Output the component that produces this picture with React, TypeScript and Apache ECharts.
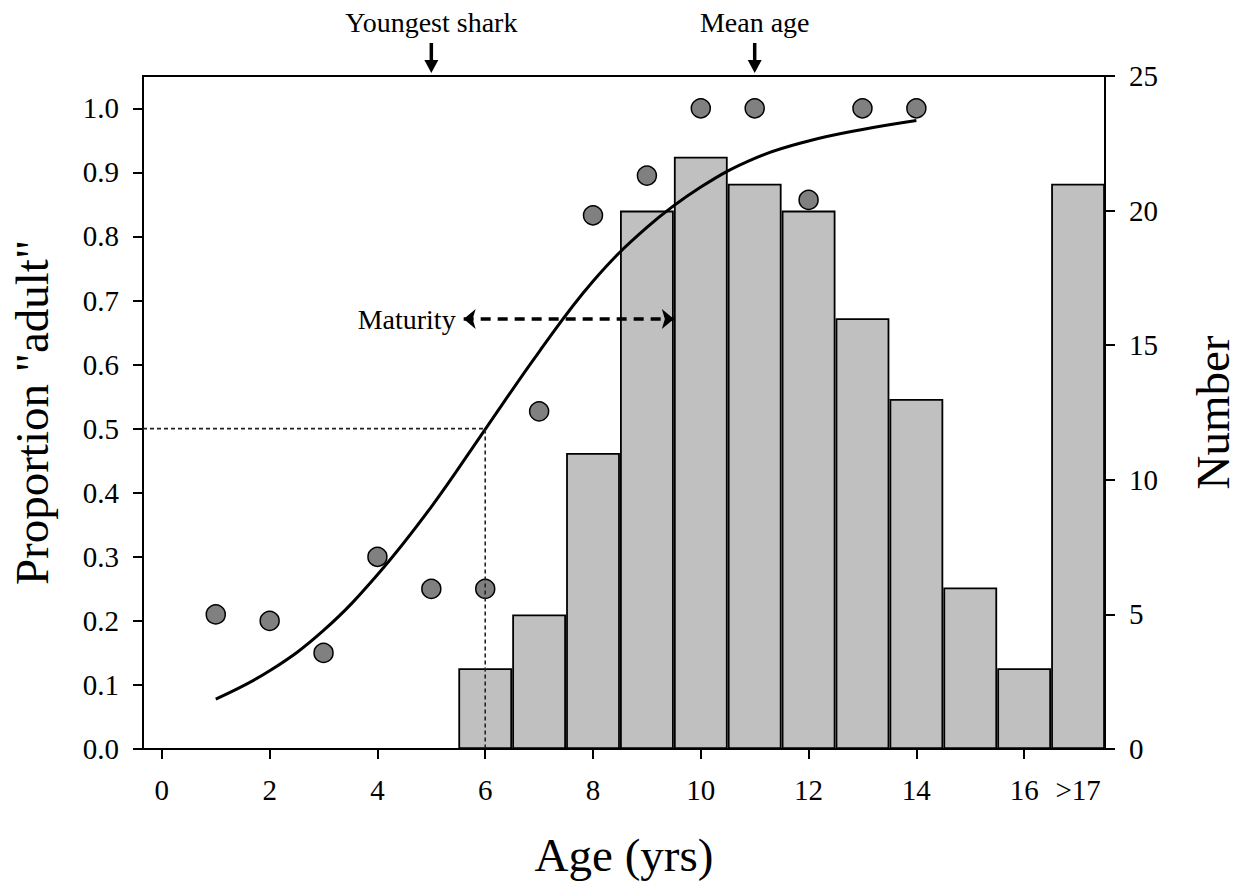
import React, { useEffect, useRef } from "react";
import * as echarts from "echarts";

const FONT = "'Liberation Serif', 'Times New Roman', Times, serif";

// Histogram: number of sharks per age class (right axis)
const barAges = [6, 7, 8, 9, 10, 11, 12, 13, 14, 15, 16, 17];
const barCounts = [3, 5, 11, 20, 22, 21, 20, 16, 13, 6, 3, 21];

// Observed proportion "adult" per age (left axis)
const pointAges = [1, 2, 3, 4, 5, 6, 7, 8, 9, 10, 11, 12, 13, 14];
const pointProps = [0.21, 0.2, 0.15, 0.3, 0.25, 0.25, 0.527, 0.833, 0.895, 1.0, 1.0, 0.857, 1.0, 1.0];

// Fitted maturity curve
const curveAges = [1, 2, 3, 4, 5, 6, 7, 8, 9, 10, 11, 12, 13, 14];
const curveProps = [0.078, 0.122, 0.185, 0.272, 0.378, 0.499, 0.62, 0.73, 0.814, 0.877, 0.922, 0.949, 0.967, 0.981];

// 50% maturity reference
const age50 = 6;
const prop50 = 0.5;

// Maturity range arrow
const maturityFrom = 5.6;
const maturityTo = 9.5;
const maturityLevel = 0.671;

// Top annotations
const topNotes = [
  { label: "Youngest shark", age: 5 },
  { label: "Mean age", age: 11 },
];

// Axis ticks / labels
const xTickValues = [0, 2, 4, 6, 8, 10, 12, 14, 16];
const xLabelValues = [0, 2, 4, 6, 8, 10, 12, 14, 16, 17];
const yLeftTicks = [0, 0.1, 0.2, 0.3, 0.4, 0.5, 0.6, 0.7, 0.8, 0.9, 1.0];

const X_MIN = -0.35;
const X_MAX = 17.5;
const YL_MAX = 1.0504;
const YR_MAX = 25;

export default function App() {
  const ref = useRef<HTMLDivElement>(null);

  useEffect(() => {
    document.body.style.margin = "0";
    const chart = echarts.init(ref.current!, null, { renderer: "svg" });
    const axisLineStyle = { color: "#000", width: 2 };
    const tickStyle = { color: "#000", width: 2 };
    const labelBase = { color: "#000", fontFamily: FONT, fontSize: 29 };

    chart.setOption({
      animation: false,
      backgroundColor: "#fff",
      grid: {
        left: 143,
        right: 139,
        top: 76,
        bottom: 137,
        show: true,
        borderColor: "#000",
        borderWidth: 2,
        backgroundColor: "transparent",
      },
      xAxis: {
        type: "value",
        min: X_MIN,
        max: X_MAX,
        axisLine: { show: true, onZero: false, lineStyle: axisLineStyle },
        axisTick: { show: true, customValues: xTickValues, length: 10, lineStyle: tickStyle },
        axisLabel: {
          ...labelBase,
          customValues: xLabelValues,
          margin: 26,
          formatter: (v: number) => (v === 17 ? ">17" : String(v)),
        },
        splitLine: { show: false },
        name: "Age (yrs)",
        nameLocation: "middle",
        nameGap: 82,
        nameTextStyle: { color: "#000", fontFamily: FONT, fontSize: 47 },
      },
      yAxis: [
        {
          type: "value",
          position: "left",
          min: 0,
          max: YL_MAX,
          axisLine: { show: true, onZero: false, lineStyle: axisLineStyle },
          axisTick: { show: true, customValues: yLeftTicks, length: 10, lineStyle: tickStyle },
          axisLabel: {
            ...labelBase,
            customValues: yLeftTicks,
            margin: 24,
            formatter: (v: number) => v.toFixed(1),
          },
          splitLine: { show: false },
          name: 'Proportion "adult"',
          nameLocation: "middle",
          nameRotate: 90,
          nameGap: 88,
          nameTextStyle: { color: "#000", fontFamily: FONT, fontSize: 47 },
        },
        {
          type: "value",
          position: "right",
          min: 0,
          max: YR_MAX,
          interval: 5,
          axisLine: { show: true, onZero: false, lineStyle: axisLineStyle },
          axisTick: { show: true, length: 10, lineStyle: tickStyle },
          axisLabel: { ...labelBase, margin: 24 },
          splitLine: { show: false },
          name: "Number",
          nameLocation: "middle",
          nameRotate: 90,
          nameGap: 84,
          nameTextStyle: { color: "#000", fontFamily: FONT, fontSize: 47 },
        },
      ],
      series: [
        {
          type: "bar",
          xAxisIndex: 0,
          yAxisIndex: 1,
          data: barAges.map((a, i) => [a, barCounts[i]]),
          barWidth: 53.8,
          itemStyle: { color: "#c0c0c0", borderColor: "#000", borderWidth: 1.8 },
          z: 2,
        },
        {
          type: "line",
          xAxisIndex: 0,
          yAxisIndex: 0,
          data: curveAges.map((a, i) => [a, curveProps[i]]),
          smooth: 0.4,
          showSymbol: false,
          lineStyle: { color: "#000", width: 3 },
          z: 3,
        },
        {
          type: "scatter",
          xAxisIndex: 0,
          yAxisIndex: 0,
          data: pointAges.map((a, i) => [a, pointProps[i]]),
          symbolSize: 19,
          itemStyle: { color: "#808080", borderColor: "#000", borderWidth: 1.5, opacity: 1 },
          z: 4,
        },
        {
          type: "line",
          xAxisIndex: 0,
          yAxisIndex: 0,
          data: [
            [X_MIN, prop50],
            [age50, prop50],
            [age50, 0],
          ],
          showSymbol: false,
          lineStyle: { color: "#222", width: 1.6, type: [4, 3] },
          z: 5,
          markLine: {
            silent: true,
            symbol: ["arrow", "arrow"],
            symbolSize: [15, 12],
            lineStyle: { color: "#000", width: 3.5, type: [10, 7] },
            label: {
              show: true,
              position: "start",
              formatter: "Maturity",
              color: "#000",
              fontFamily: FONT,
              fontSize: 28,
              distance: 8,
            },
            data: [[{ coord: [maturityFrom, maturityLevel] }, { coord: [maturityTo, maturityLevel] }]],
          },
        },
      ],
    });

    const graphics: any[] = [];
    topNotes.forEach((n) => {
      const x = chart.convertToPixel({ xAxisIndex: 0 }, n.age) as number;
      graphics.push({
        type: "text",
        x,
        y: 22,
        style: {
          text: n.label,
          fill: "#000",
          font: `28px ${FONT}`,
          textAlign: "center",
          textVerticalAlign: "middle",
        },
      });
      graphics.push({
        type: "line",
        shape: { x1: x, y1: 43, x2: x, y2: 63 },
        style: { stroke: "#000", lineWidth: 3.5 },
      });
      graphics.push({
        type: "polygon",
        shape: { points: [[x - 7, 60], [x + 7, 60], [x, 73]] },
        style: { fill: "#000" },
      });
    });
    chart.setOption({ graphic: graphics });

    return () => chart.dispose();
  }, []);

  return <div ref={ref} style={{ width: 1244, height: 886 }} />;
}
